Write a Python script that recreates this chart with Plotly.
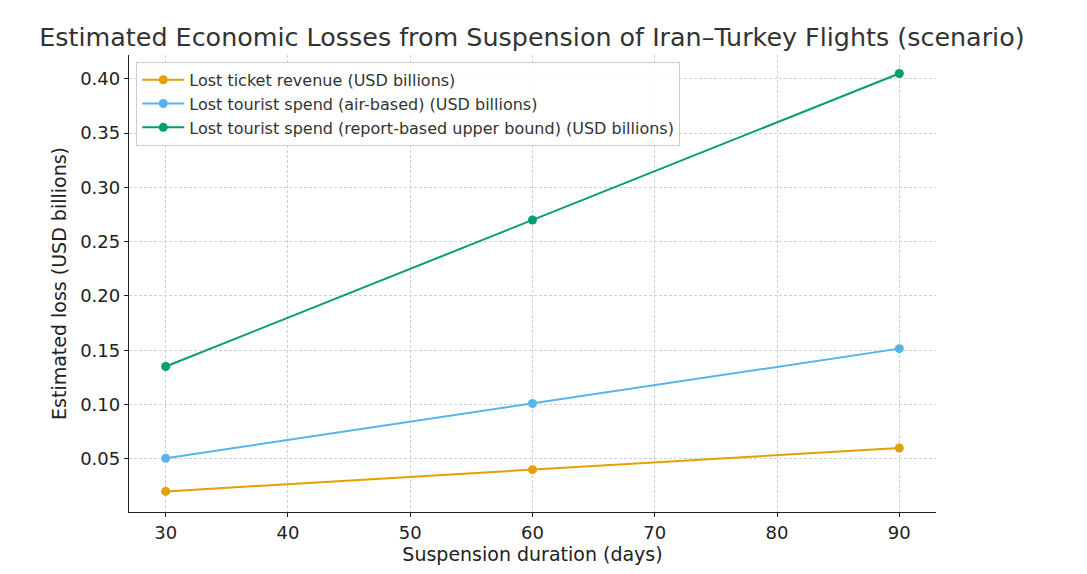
import plotly.graph_objects as go

days = [30, 60, 90]
ticket_revenue = [0.02, 0.04, 0.06]
tourist_air = [0.0505, 0.101, 0.1515]
tourist_upper = [0.135, 0.27, 0.405]

series = [
    ("Lost ticket revenue (USD billions)", ticket_revenue, "#E69F00"),
    ("Lost tourist spend (air-based) (USD billions)", tourist_air, "#56B4E9"),
    ("Lost tourist spend (report-based upper bound) (USD billions)", tourist_upper, "#009E73"),
]

fig = go.Figure()
for name, vals, col in series:
    fig.add_trace(go.Scatter(x=days, y=vals, name=name, mode="lines+markers",
                             line=dict(color=col, width=2),
                             marker=dict(color=col, size=9)))

axis_style = dict(showgrid=True, gridcolor="#d0d0d0", griddash="3px,2px", gridwidth=1,
                  showline=True, linecolor="#222222", linewidth=1.3,
                  ticks="outside", ticklen=4, tickcolor="#222222",
                  tickfont=dict(size=18, color="#222222"), zeroline=False,
                  automargin=False)

# page body has an 8px margin, so margins are shifted to compensate
fig.update_layout(
    width=1087, height=574,
    paper_bgcolor="white", plot_bgcolor="white",
    font=dict(family="DejaVu Sans", color="#222222"),
    title=dict(text="Estimated Economic Losses from Suspension of Iran–Turkey Flights (scenario)",
               x=0.482, xanchor="center", y=0.949, yanchor="middle",
               font=dict(size=25.4, color="#333333")),
    margin=dict(l=121, r=159, t=47, b=70),
    showlegend=True,
    legend=dict(x=0.009, y=0.985, xanchor="left", yanchor="top",
                bgcolor="rgba(255,255,255,0.85)", bordercolor="#cccccc", borderwidth=1,
                font=dict(size=16, color="#333333"), tracegroupgap=0,
                itemwidth=42, entrywidth=490, entrywidthmode="pixels"),
)
fig.update_xaxes(axis_style, range=[27, 93], tickvals=[30, 40, 50, 60, 70, 80, 90],
                 title=dict(text="Suspension duration (days)", font=dict(size=19), standoff=1))
fig.update_yaxes(axis_style, range=[0.001, 0.422],
                 tickvals=[0.05, 0.10, 0.15, 0.20, 0.25, 0.30, 0.35, 0.40], tickformat=".2f",
                 title=dict(text="Estimated loss (USD billions)", font=dict(size=19), standoff=8))

fig.write_html("out.html")
